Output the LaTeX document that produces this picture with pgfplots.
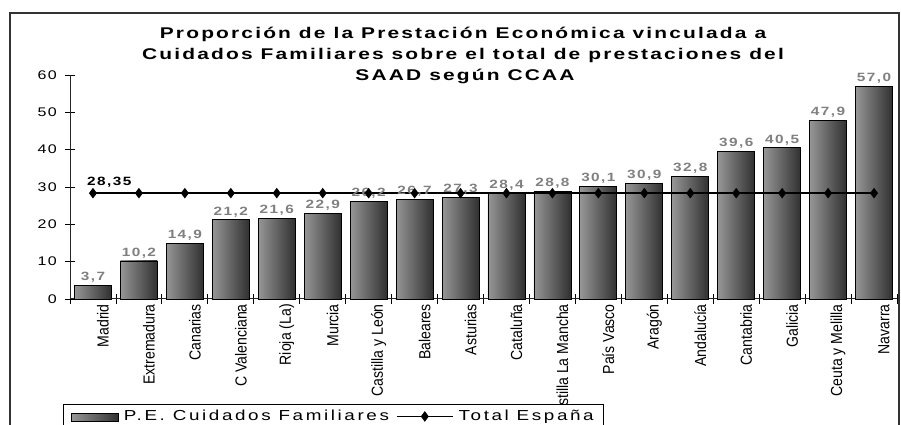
\documentclass[border=0pt]{standalone}
\usepackage{fontspec}
\setmainfont{Liberation Sans}
\newfontfamily\spf{Liberation Sans}[FakeStretch=1.28, LetterSpace=12]
\newfontfamily\tf{Liberation Sans}[FakeStretch=1.35, LetterSpace=14]
\newfontfamily\lf{Liberation Sans}[FakeStretch=1.3, LetterSpace=18]
\newfontfamily\xlf{Liberation Sans}[FakeStretch=0.88]
\usepackage{pgfplots}
\pgfplotsset{compat=1.18}
\definecolor{barL}{RGB}{150,150,150}
\definecolor{barR}{RGB}{48,48,48}
\definecolor{lab}{RGB}{128,128,128}
\pgfplotsset{
  barleg/.style={legend image code/.code={\draw[black, line width=0.6pt, left color=barL, right color=barR] (0pt,-0.9ex) rectangle (47pt,0.6ex);}},
  lineleg/.style={legend image code/.code={\draw[##1, mark repeat=2, mark phase=2] plot coordinates {(0pt,0pt) (28pt,0pt) (56pt,0pt)};}},
  barstyle/.style={ybar, bar width=37pt, draw=black, line width=0.8pt, left color=barL, right color=barR,
    nodes near coords,
    every node near coord/.append style={font=\spf\bfseries\fontsize{12pt}{14pt}\selectfont, text=lab, inner sep=2.5pt},
    /pgf/number format/.cd, fixed, fixed zerofill, precision=1, use comma, assume math mode=true, /pgfplots/.cd},
  fbar/.style={barstyle, forget plot},
}
\begin{document}
\begin{tikzpicture}
\useasboundingbox (0,0) rectangle (901pt,425pt);
\clip (0,0) rectangle (901pt,425pt);
\draw[line width=1.4pt, black!80] (10pt,-20pt) rectangle (899pt,412pt);
\node[anchor=base, font=\tf\bfseries\fontsize{15.5pt}{16pt}\selectfont] at (463pt,386pt) {Proporción de la Prestación Económica vinculada a};
\node[anchor=base, font=\tf\bfseries\fontsize{15.5pt}{16pt}\selectfont] at (463pt,365pt) {Cuidados Familiares sobre el total de prestaciones del};
\node[anchor=base, font=\tf\bfseries\fontsize{15.5pt}{16pt}\selectfont] at (465pt,344pt) {SAAD según CCAA};
\begin{axis}[
  at={(70pt,126pt)}, anchor=south west,
  scale only axis, width=827pt, height=224pt,
  xmin=-0.5, xmax=17.5, ymin=0, ymax=60,
  axis x line*=bottom, axis y line*=left,
  axis line style={line width=1pt, black!85},
  ytick={0,10,...,60},
  xtick={0,...,17},
  xticklabels={Madrid,Extremadura,Canarias,C Valenciana,Rioja (La),Murcia,Castilla y León,Baleares,Asturias,Cataluña,Castilla La Mancha,País Vasco,Aragón,Andalucía,Cantabria,Galicia,Ceuta y Melilla,Navarra},
  minor xtick={-0.5,0.5,...,17.5},
  tick align=center,
  major tick length=10pt,
  minor tick length=10pt,
  x tick style={draw=none},
  minor x tick style={draw=black, line width=0.8pt},
  y tick style={black, line width=0.8pt},
  xticklabel style={font=\xlf\fontsize{16pt}{17pt}\selectfont, rotate=90, anchor=east, inner sep=0pt, yshift=-10pt},
  yticklabel style={font=\spf\fontsize{12.5pt}{14pt}\selectfont, inner sep=0pt, xshift=-8pt},
  /pgf/number format/assume math mode=true,
  legend entries={P.E. Cuidados Familiares, Total España},
  legend style={at={(-0.0085,-0.469)}, anchor=north west, draw=black, line width=0.8pt, fill=white,
    font=\lf\fontsize{14.5pt}{16pt}\selectfont, legend columns=2, inner xsep=8pt, inner ysep=4pt,
    /tikz/every odd column/.append style={column sep=3pt},
    /tikz/every even column/.append style={column sep=5pt}},
  clip=false,
]
\addplot[barstyle, barleg] coordinates {(0,3.7)};
\addplot[fbar] coordinates {(1,10.2)};
\addplot[fbar] coordinates {(2,14.9)};
\addplot[fbar] coordinates {(3,21.2)};
\addplot[fbar] coordinates {(4,21.6)};
\addplot[fbar] coordinates {(5,22.9)};
\addplot[fbar] coordinates {(6,26.2)};
\addplot[fbar] coordinates {(7,26.7)};
\addplot[fbar] coordinates {(8,27.3)};
\addplot[fbar] coordinates {(9,28.4)};
\addplot[fbar] coordinates {(10,28.8)};
\addplot[fbar] coordinates {(11,30.1)};
\addplot[fbar] coordinates {(12,30.9)};
\addplot[fbar] coordinates {(13,32.8)};
\addplot[fbar] coordinates {(14,39.6)};
\addplot[fbar] coordinates {(15,40.5)};
\addplot[fbar] coordinates {(16,47.9)};
\addplot[fbar] coordinates {(17,57.0)};
\addplot[black, line width=1.6pt, mark=diamond*, mark size=4pt, mark options={solid}, lineleg] coordinates {
(0,28.35) (1,28.35) (2,28.35) (3,28.35) (4,28.35) (5,28.35) (6,28.35) (7,28.35) (8,28.35) (9,28.35) (10,28.35) (11,28.35) (12,28.35) (13,28.35) (14,28.35) (15,28.35) (16,28.35) (17,28.35)
};
\node[anchor=south west, font=\spf\bfseries\fontsize{12pt}{14pt}\selectfont, inner sep=0pt] at (axis cs:0,28.35) [xshift=-6pt, yshift=6pt] {28,35};
\end{axis}
\end{tikzpicture}
\end{document}
